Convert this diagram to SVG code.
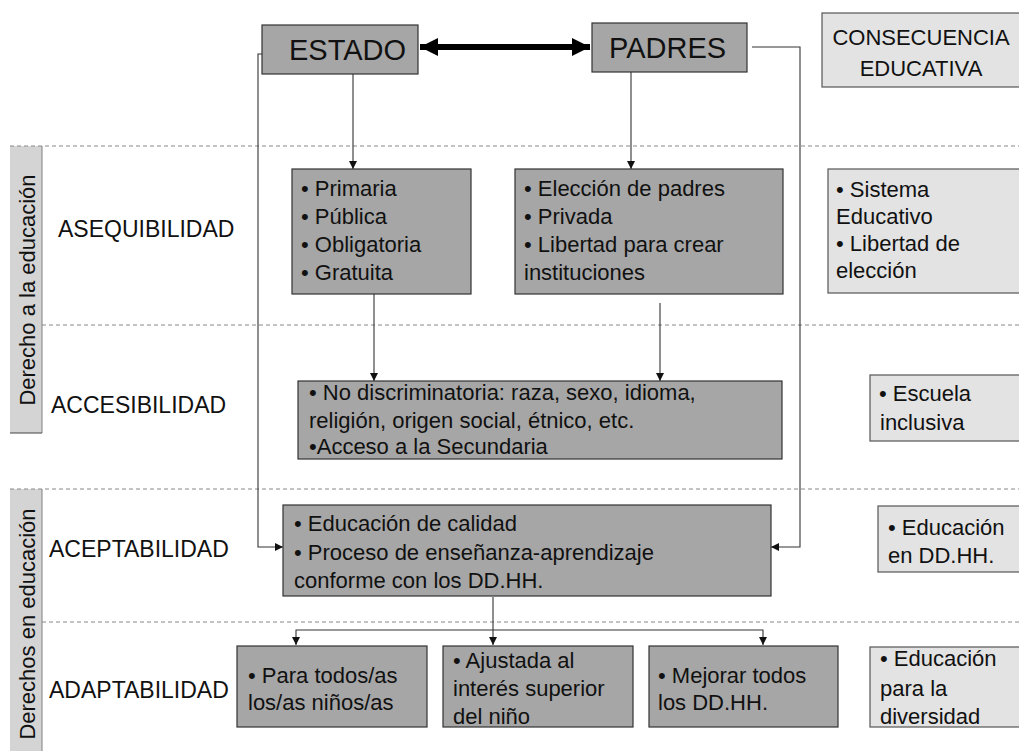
<svg xmlns="http://www.w3.org/2000/svg" width="1019" height="751" viewBox="0 0 1019 751">
<defs>
<style>
text{font-family:"Liberation Sans",Arial,sans-serif;fill:#111;}
.dark{fill:#a6a6a6;stroke:#333;stroke-width:1.2;}
.light{fill:#e3e3e3;stroke:#555;stroke-width:1.2;}
.body{font-size:22px;}
.lbl{font-size:23px;}
.band{font-size:22px;}
.big{font-size:29px;}
.dash{stroke:#888;stroke-width:1;stroke-dasharray:4 3;fill:none;}
.con{stroke:#333;stroke-width:1.1;fill:none;}
</style>
<marker id="ah" viewBox="0 0 10 10" refX="10" refY="5" markerWidth="8" markerHeight="8" markerUnits="userSpaceOnUse" orient="auto"><path d="M0,0 L10,5 L0,10 z" fill="#111"/></marker>
<marker id="bh" viewBox="0 0 18 18" refX="18" refY="9" markerWidth="18" markerHeight="18" markerUnits="userSpaceOnUse" orient="auto-start-reverse"><path d="M0,0 L18,9 L0,18 z" fill="#000"/></marker>
</defs>
<rect width="1019" height="751" fill="#fff"/>

<g id="bands">
<rect x="10" y="146" width="32" height="287" fill="#d4d4d4"/>
<line x1="42" y1="146" x2="42" y2="433" stroke="#808080"/>
<line x1="10" y1="433" x2="42" y2="433" stroke="#444"/>
<text class="band" transform="translate(35,290) rotate(-90)" text-anchor="middle">Derecho a la educación</text>
<rect x="10" y="489" width="32" height="262" fill="#d4d4d4"/>
<line x1="42" y1="489" x2="42" y2="751" stroke="#808080"/>
<text class="band" transform="translate(35,624) rotate(-90)" text-anchor="middle">Derechos en educación</text>
</g>

<g id="dividers">
<line class="dash" x1="10" y1="146" x2="1019" y2="146"/>
<line class="dash" x1="42" y1="325" x2="1019" y2="325"/>
<line class="dash" x1="10" y1="489" x2="1019" y2="489"/>
<line class="dash" x1="42" y1="622" x2="1019" y2="622"/>
</g>

<g id="labels">
<text class="lbl" x="58" y="237">ASEQUIBILIDAD</text>
<text class="lbl" x="51" y="413">ACCESIBILIDAD</text>
<text class="lbl" x="49" y="557">ACEPTABILIDAD</text>
<text class="lbl" x="49" y="698">ADAPTABILIDAD</text>
</g>

<g id="connectors">
<line x1="420" y1="47" x2="590" y2="47" stroke="#000" stroke-width="6" marker-start="url(#bh)" marker-end="url(#bh)"/>
<line class="con" x1="353" y1="74" x2="353" y2="169" marker-end="url(#ah)"/>
<line class="con" x1="631" y1="72" x2="631" y2="169" marker-end="url(#ah)"/>
<line class="con" x1="374" y1="294" x2="374" y2="381" marker-end="url(#ah)"/>
<line class="con" x1="660" y1="303" x2="660" y2="381" marker-end="url(#ah)"/>
<polyline class="con" points="262,54 258,54 258,547 283,547" marker-end="url(#ah)"/>
<polyline class="con" points="752,47 800,47 800,547 771,547" marker-end="url(#ah)"/>
<line class="con" x1="493" y1="597" x2="493" y2="645" marker-end="url(#ah)"/>
<polyline class="con" points="493,630 296,630 296,645" marker-end="url(#ah)"/>
<polyline class="con" points="493,630 763,630 763,645" marker-end="url(#ah)"/>
</g>

<g id="estado">
<rect class="dark" x="262" y="25" width="156" height="49"/>
<text class="big" x="289" y="60">ESTADO</text>
</g>
<g id="padres">
<rect class="dark" x="592" y="23" width="155" height="49"/>
<text class="big" x="609" y="58">PADRES</text>
</g>
<g id="consecuencia">
<rect class="light" x="822" y="13" width="200" height="74"/>
<text x="921" y="45" text-anchor="middle" style="font-size:22px">CONSECUENCIA</text>
<text x="921" y="76" text-anchor="middle" style="font-size:22px">EDUCATIVA</text>
</g>

<g id="estado-aseq">
<rect class="dark" x="292" y="169" width="179" height="125"/>
<text class="body" x="301" y="196">• Primaria</text>
<text class="body" x="301" y="224">• Pública</text>
<text class="body" x="301" y="252">• Obligatoria</text>
<text class="body" x="301" y="280">• Gratuita</text>
</g>
<g id="padres-aseq">
<rect class="dark" x="515" y="169" width="268" height="125"/>
<text class="body" x="524" y="196">• Elección de padres</text>
<text class="body" x="524" y="224">• Privada</text>
<text class="body" x="524" y="252">• Libertad para crear</text>
<text class="body" x="524" y="280">instituciones</text>
</g>
<g id="sistema">
<rect class="light" x="828" y="169" width="194" height="124"/>
<text class="body" x="836" y="197">• Sistema</text>
<text class="body" x="836" y="224">Educativo</text>
<text class="body" x="836" y="251">• Libertad de</text>
<text class="body" x="836" y="278">elección</text>
</g>

<g id="accesibilidad">
<rect class="dark" x="298" y="381" width="484" height="78"/>
<text class="body" x="309" y="400">• No discriminatoria: raza, sexo, idioma,</text>
<text class="body" x="309" y="428">religión, origen social, étnico, etc.</text>
<text class="body" x="309" y="454">•Acceso a la Secundaria</text>
</g>
<g id="escuela">
<rect class="light" x="870" y="375" width="152" height="66"/>
<text class="body" x="879" y="401">• Escuela</text>
<text class="body" x="880" y="430">inclusiva</text>
</g>

<g id="aceptabilidad">
<rect class="dark" x="283" y="505" width="488" height="91"/>
<text class="body" x="294" y="531">• Educación de calidad</text>
<text class="body" x="294" y="560">• Proceso de enseñanza-aprendizaje</text>
<text class="body" x="294" y="588">conforme con los DD.HH.</text>
</g>
<g id="ddhh">
<rect class="light" x="878" y="506" width="144" height="66"/>
<text class="body" x="888" y="535">• Educación</text>
<text class="body" x="888" y="563">en DD.HH.</text>
</g>

<g id="para-todos">
<rect class="dark" x="237" y="646" width="190" height="81"/>
<text class="body" x="248" y="683">• Para todos/as</text>
<text class="body" x="248" y="710">los/as niños/as</text>
</g>
<g id="ajustada">
<rect class="dark" x="443" y="646" width="190" height="81"/>
<text class="body" x="453" y="668">• Ajustada al</text>
<text class="body" x="453" y="696">interés superior</text>
<text class="body" x="453" y="724">del niño</text>
</g>
<g id="mejorar">
<rect class="dark" x="649" y="646" width="189" height="81"/>
<text class="body" x="658" y="683">• Mejorar todos</text>
<text class="body" x="658" y="710">los DD.HH.</text>
</g>
<g id="diversidad">
<rect class="light" x="870" y="647" width="152" height="80"/>
<text class="body" x="880" y="666">• Educación</text>
<text class="body" x="880" y="696">para la</text>
<text class="body" x="880" y="724">diversidad</text>
</g>
</svg>
